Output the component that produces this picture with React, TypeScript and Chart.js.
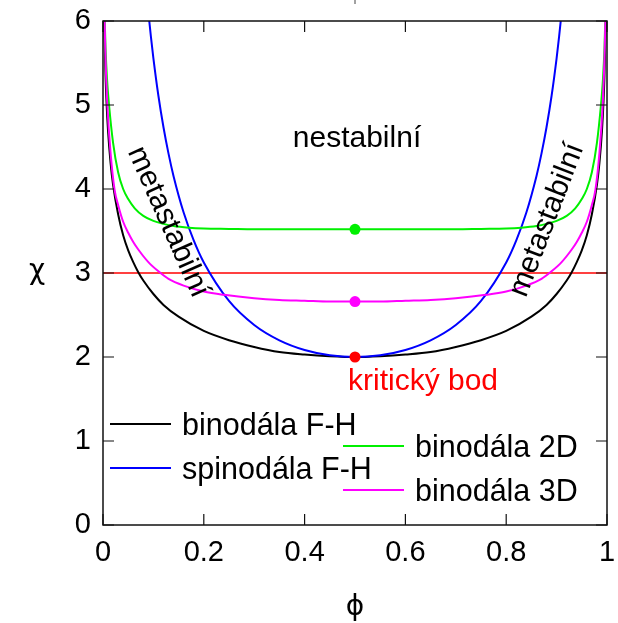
import React, { useEffect, useRef } from 'react';
import { Chart, registerables } from 'chart.js';

Chart.register(...registerables);

// ---- data ----
const phiBinodalFH = [0.0025, 0.003, 0.005, 0.007, 0.01, 0.015, 0.02, 0.03, 0.04, 0.05, 0.06, 0.07, 0.08, 0.1, 0.12, 0.15, 0.2, 0.25, 0.3, 0.35, 0.4, 0.45, 0.5, 0.55, 0.6, 0.65, 0.7, 0.75, 0.8, 0.85, 0.88, 0.9, 0.92, 0.93, 0.94, 0.95, 0.96, 0.97, 0.98, 0.985, 0.99, 0.993, 0.995, 0.997, 0.9975];
const chiBinodalFH = [6.02, 5.84, 5.35, 5.03, 4.69, 4.31, 4.05, 3.70, 3.45, 3.27, 3.13, 3.01, 2.91, 2.75, 2.62, 2.48, 2.31, 2.20, 2.12, 2.06, 2.03, 2.01, 2.00, 2.01, 2.03, 2.06, 2.12, 2.20, 2.31, 2.48, 2.62, 2.75, 2.91, 3.01, 3.13, 3.27, 3.45, 3.70, 4.05, 4.31, 4.69, 5.03, 5.35, 5.84, 6.02];

const phiSpinodalFH = [0.09, 0.095, 0.1, 0.11, 0.12, 0.13, 0.14, 0.16, 0.18, 0.2, 0.25, 0.3, 0.35, 0.4, 0.45, 0.5, 0.55, 0.6, 0.65, 0.7, 0.75, 0.8, 0.82, 0.84, 0.86, 0.87, 0.88, 0.89, 0.9, 0.905, 0.91];
const chiSpinodalFH = [6.105, 5.816, 5.556, 5.107, 4.735, 4.421, 4.153, 3.720, 3.388, 3.125, 2.667, 2.381, 2.198, 2.083, 2.020, 2.000, 2.020, 2.083, 2.198, 2.381, 2.667, 3.125, 3.388, 3.720, 4.153, 4.421, 4.735, 5.107, 5.556, 5.816, 6.105];

const phiBinodal2D = [0.003, 0.005, 0.008, 0.012, 0.02, 0.03, 0.04, 0.05, 0.063, 0.08, 0.1, 0.12, 0.14, 0.17, 0.2, 0.25, 0.3, 0.4, 0.5, 0.6, 0.7, 0.75, 0.8, 0.83, 0.86, 0.88, 0.9, 0.92, 0.937, 0.95, 0.96, 0.97, 0.98, 0.988, 0.992, 0.995, 0.997];
const chiBinodal2D = [6.1, 5.68, 5.31, 5.0, 4.55, 4.2, 4.0, 3.88, 3.77, 3.68, 3.62, 3.585, 3.56, 3.54, 3.53, 3.525, 3.52, 3.52, 3.52, 3.52, 3.52, 3.525, 3.53, 3.54, 3.56, 3.585, 3.62, 3.68, 3.77, 3.88, 4.0, 4.2, 4.55, 5.0, 5.31, 5.68, 6.1];

const phiBinodal3D = [0.003, 0.005, 0.0086, 0.015, 0.023, 0.03, 0.04, 0.05, 0.06, 0.07, 0.09, 0.11, 0.13, 0.16, 0.2, 0.24, 0.3, 0.35, 0.4, 0.45, 0.5, 0.55, 0.6, 0.65, 0.7, 0.76, 0.8, 0.84, 0.87, 0.89, 0.91, 0.93, 0.94, 0.95, 0.96, 0.97, 0.977, 0.985, 0.9914, 0.995, 0.997];
const chiBinodal3D = [6.07, 5.55, 5.0, 4.43, 3.99, 3.81, 3.61, 3.48, 3.37, 3.28, 3.13, 3.02, 2.93, 2.85, 2.78, 2.74, 2.70, 2.68, 2.67, 2.66, 2.66, 2.66, 2.67, 2.68, 2.70, 2.74, 2.78, 2.85, 2.93, 3.02, 3.13, 3.28, 3.37, 3.48, 3.61, 3.81, 3.99, 4.43, 5.0, 5.55, 6.07];

const criticalPhi = [0.5, 0.5, 0.5];
const criticalChi = [3.52, 2.66, 2.0];
const criticalColors = ['#00f000', '#ff00ff', '#ff0000'];

const thresholdPhi = [0, 1];
const thresholdChi = [3, 3];

const xTickValues = [0, 0.2, 0.4, 0.6, 0.8, 1];
const xTickLabels = ['0', '0.2', '0.4', '0.6', '0.8', '1'];
const yTickValues = [0, 1, 2, 3, 4, 5, 6];
const yTickLabels = ['0', '1', '2', '3', '4', '5', '6'];

const seriesNames = ['binodála F-H', 'spinodála F-H', 'binodála 2D', 'binodála 3D'];
const seriesColors = ['#000000', '#0000ff', '#00f000', '#ff00ff'];

const FONT = "'Liberation Sans', Arial, Helvetica, sans-serif";
const GREEK_FONT = "'DejaVu Sans', sans-serif";

const toPoints = (xs: number[], ys: number[]) => xs.map((x, i) => ({ x, y: ys[i] }));

export default function App() {
  const canvasRef = useRef<HTMLCanvasElement>(null);

  useEffect(() => {
    document.body.style.margin = '0';
    const canvas = canvasRef.current;
    if (!canvas) return;

    const overlay = {
      id: 'overlay',
      afterDatasetsDraw(chart: any) {
        const { ctx, chartArea } = chart;
        const { left, right, top, bottom } = chartArea;
        const xs = chart.scales.x;
        const ys = chart.scales.y;
        ctx.save();

        // frame
        ctx.strokeStyle = '#111';
        ctx.lineWidth = 1.5;
        ctx.strokeRect(left, top, right - left, bottom - top);

        // inward ticks on all four sides
        const tl = 11;
        ctx.lineWidth = 1.2;
        ctx.beginPath();
        xTickValues.forEach((v) => {
          const px = xs.getPixelForValue(v);
          ctx.moveTo(px, bottom);
          ctx.lineTo(px, bottom - tl);
          ctx.moveTo(px, top);
          ctx.lineTo(px, top + tl);
        });
        yTickValues.forEach((v) => {
          const py = ys.getPixelForValue(v);
          ctx.moveTo(left, py);
          ctx.lineTo(left + tl, py);
          ctx.moveTo(right, py);
          ctx.lineTo(right - tl, py);
        });
        ctx.stroke();

        // stray mark above the frame
        ctx.lineWidth = 1;
        ctx.strokeStyle = '#444';
        ctx.beginPath();
        ctx.moveTo(355, 0);
        ctx.lineTo(355, 4);
        ctx.stroke();

        // axis titles
        ctx.fillStyle = '#000';
        ctx.font = `28px ${GREEK_FONT}`;
        ctx.textAlign = 'center';
        ctx.textBaseline = 'middle';
        ctx.fillText('χ', 37, 272);
        ctx.fillText('ϕ', 355, 608);

        // region annotations
        ctx.font = `30px ${FONT}`;
        ctx.textBaseline = 'alphabetic';
        ctx.fillText('nestabilní', xs.getPixelForValue(0.5) + 2, 147);

        ctx.fillStyle = '#ff0000';
        ctx.textAlign = 'left';
        ctx.fillText('kritický bod', 348, 390);

        ctx.fillStyle = '#000';
        ctx.textAlign = 'center';
        ctx.textBaseline = 'middle';
        ctx.save();
        ctx.translate(168, 222);
        ctx.rotate((66 * Math.PI) / 180);
        ctx.fillText('metastabilní', 0, 0);
        ctx.restore();

        ctx.save();
        ctx.translate(547, 220);
        ctx.rotate((-69 * Math.PI) / 180);
        ctx.fillText('metastabilní', 0, 0);
        ctx.restore();

        // legend
        const legendRows = [
          { x: 110, y: 424 },
          { x: 110, y: 468 },
          { x: 343, y: 446 },
          { x: 343, y: 490 },
        ];
        ctx.textAlign = 'left';
        ctx.textBaseline = 'alphabetic';
        ctx.font = `30.5px ${FONT}`;
        legendRows.forEach((r, i) => {
          ctx.strokeStyle = seriesColors[i];
          ctx.lineWidth = 2;
          ctx.beginPath();
          ctx.moveTo(r.x, r.y);
          ctx.lineTo(r.x + 61, r.y);
          ctx.stroke();
          ctx.fillStyle = '#000';
          ctx.fillText(seriesNames[i], r.x + 72, r.y + 11);
        });

        ctx.restore();
      },
    };

    const lineDs = (label: string, pts: any[], color: string, order: number, width = 2) => ({
      label,
      data: pts,
      borderColor: color,
      backgroundColor: color,
      borderWidth: width,
      pointRadius: 0,
      fill: false,
      cubicInterpolationMode: 'monotone' as const,
      order,
    });

    const chart = new Chart(canvas, {
      type: 'line',
      data: {
        datasets: [
          {
            label: 'kritický bod',
            data: toPoints(criticalPhi, criticalChi),
            showLine: false,
            pointRadius: 5.5,
            pointBackgroundColor: criticalColors,
            pointBorderColor: criticalColors,
            pointBorderWidth: 0,
            order: 0,
          } as any,
          lineDs(seriesNames[3], toPoints(phiBinodal3D, chiBinodal3D), seriesColors[3], 1),
          lineDs(seriesNames[2], toPoints(phiBinodal2D, chiBinodal2D), seriesColors[2], 2),
          lineDs(seriesNames[1], toPoints(phiSpinodalFH, chiSpinodalFH), seriesColors[1], 3),
          lineDs(seriesNames[0], toPoints(phiBinodalFH, chiBinodalFH), seriesColors[0], 4),
          {
            ...lineDs('χ = 3', toPoints(thresholdPhi, thresholdChi), '#ff0000', 5, 1.5),
            cubicInterpolationMode: 'default',
          } as any,
        ],
      },
      options: {
        animation: false,
        responsive: false,
        maintainAspectRatio: false,
        events: [],
        layout: { padding: { left: 0, top: 21, right: 11, bottom: 0 } },
        plugins: {
          legend: { display: false },
          tooltip: { enabled: false },
          title: { display: false },
        },
        scales: {
          x: {
            type: 'linear',
            min: 0,
            max: 1,
            afterFit: (s: any) => {
              s.height = 98;
              s.paddingLeft = 0;
              s.paddingRight = 0;
              s.paddingTop = 0;
              s.paddingBottom = 0;
            },
            afterBuildTicks: (s: any) => {
              s.ticks = xTickValues.map((v) => ({ value: v }));
            },
            ticks: {
              autoSkip: false,
              maxRotation: 0,
              padding: 11,
              color: '#000',
              font: { family: FONT, size: 29 },
              callback: (v: any) => {
                const i = xTickValues.findIndex((t) => Math.abs(t - Number(v)) < 1e-9);
                return i >= 0 ? xTickLabels[i] : '';
              },
            },
            grid: { display: false, drawTicks: false },
            border: { display: false },
          },
          y: {
            type: 'linear',
            min: 0,
            max: 6,
            afterFit: (s: any) => {
              s.width = 103;
              s.paddingLeft = 0;
              s.paddingRight = 0;
              s.paddingTop = 0;
              s.paddingBottom = 0;
            },
            afterBuildTicks: (s: any) => {
              s.ticks = yTickValues.map((v) => ({ value: v }));
            },
            ticks: {
              autoSkip: false,
              padding: 12,
              color: '#000',
              font: { family: FONT, size: 29 },
              callback: (v: any) => {
                const i = yTickValues.findIndex((t) => Math.abs(t - Number(v)) < 1e-9);
                return i >= 0 ? yTickLabels[i] : '';
              },
            },
            grid: { display: false, drawTicks: false },
            border: { display: false },
          },
        },
      },
      plugins: [overlay],
    });

    return () => chart.destroy();
  }, []);

  return (
    <div style={{ position: 'absolute', left: 0, top: 0, width: 618, height: 623 }}>
      <canvas ref={canvasRef} width={618} height={623} style={{ display: 'block', width: 618, height: 623 }} />
    </div>
  );
}
